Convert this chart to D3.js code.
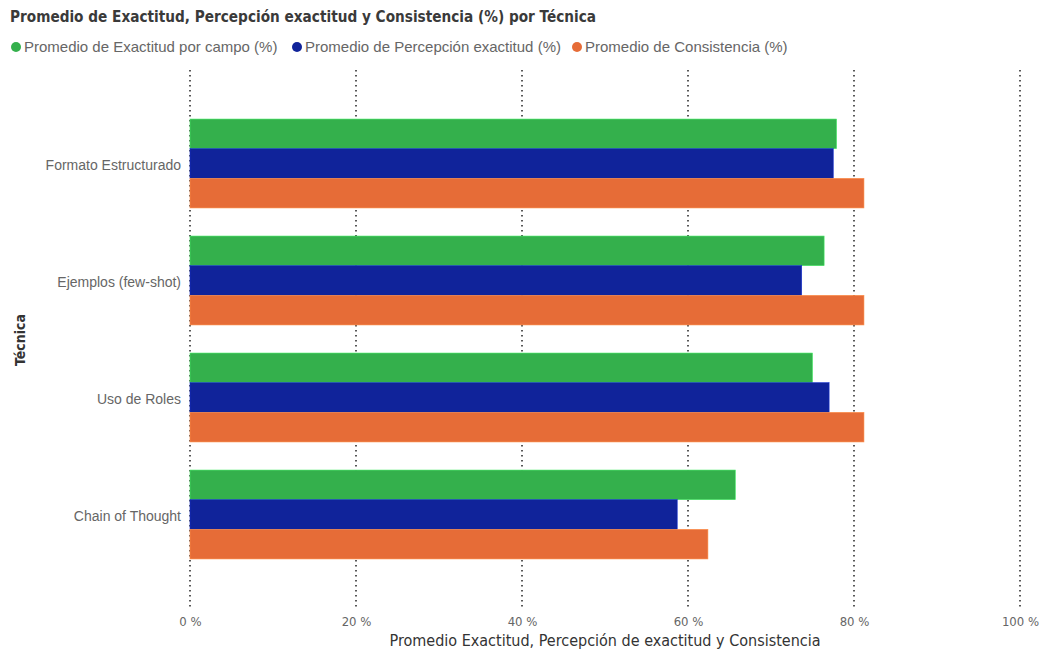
<!DOCTYPE html>
<html><head><meta charset="utf-8">
<script src="https://cdn.jsdelivr.net/npm/d3@7"></script>
<style>body{margin:0;background:#fff}svg{display:block}</style>
</head><body>
<svg id="c" width="1044" height="651"></svg>
<script>
const categories = ["Formato Estructurado","Ejemplos (few-shot)","Uso de Roles","Chain of Thought"];
const seriesNames = ["Promedio de Exactitud por campo (%)","Promedio de Percepción exactitud (%)","Promedio de Consistencia (%)"];
const exactitud = [77.9, 76.4, 75.0, 65.7];
const percepcion = [77.5, 73.7, 77.0, 58.7];
const consistencia = [81.2, 81.2, 81.2, 62.4];
const ticks = [0, 20, 40, 60, 80, 100];
const colors = ["#34B04C","#10239A","#E66C37"];
const series = [exactitud, percepcion, consistencia];

const svg = d3.select("#c");
const x = d3.scaleLinear().domain([0,100]).range([190,1020]);
const y = d3.scaleBand().domain(categories).range([105,573]).paddingInner(0.24).paddingOuter(0.12);
const ySub = d3.scaleBand().domain(d3.range(series.length)).range([0,y.bandwidth()]);

const cond = "'DejaVu Sans Condensed','DejaVu Sans',sans-serif";
const sans = "'Liberation Sans',Arial,sans-serif";

// gridlines
svg.append("g").selectAll("line").data(ticks).join("line")
  .attr("x1",d=>x(d)).attr("x2",d=>x(d)).attr("y1",70).attr("y2",610)
  .attr("stroke","#222").attr("stroke-width",1.5).attr("stroke-dasharray","1.5,3.5");

// bars
const g = svg.append("g");
categories.forEach((c,i)=>{
  series.forEach((s,j)=>{
    g.append("rect").attr("x",x(0)).attr("y",y(c)+ySub(j))
      .attr("width",x(s[i])-x(0)).attr("height",ySub.bandwidth())
      .attr("fill",colors[j]).attr("stroke",d3.color(colors[j]).brighter(0.8)).attr("stroke-width",0.6);
  });
});

// x axis
const xa = svg.append("g").attr("transform","translate(0,609)")
  .call(d3.axisBottom(x).tickValues(ticks).tickSize(0).tickPadding(8).tickFormat(d=>d+" %"));
xa.select(".domain").remove();
xa.selectAll("text").attr("fill","#666").style("font-family",cond).style("font-size","13px");

// y axis
const ya = svg.append("g").attr("transform","translate(181,2)")
  .call(d3.axisLeft(y).tickSize(0).tickPadding(0));
ya.select(".domain").remove();
ya.selectAll("text").attr("fill","#666").style("font-family",sans).style("font-size","14px");

// axis titles
svg.append("text").attr("x",605).attr("y",646).attr("text-anchor","middle")
  .attr("fill","#333").style("font-family",cond).style("font-size","16px")
  .text("Promedio Exactitud, Percepción de exactitud y Consistencia");
svg.append("text").attr("transform","translate(25,340) rotate(-90)").attr("text-anchor","middle")
  .attr("fill","#333").style("font-family",cond).style("font-size","14px").style("font-weight","bold")
  .text("Técnica");

// title
svg.append("text").attr("x",10).attr("y",22).attr("fill","#3a3a3a")
  .style("font-family",cond).style("font-size","15.2px").style("font-weight","bold")
  .text("Promedio de Exactitud, Percepción exactitud y Consistencia (%) por Técnica");

// legend
const legX = [16, 297, 577];
seriesNames.forEach((n,j)=>{
  svg.append("circle").attr("cx",legX[j]).attr("cy",47).attr("r",5).attr("fill",colors[j]);
  svg.append("text").attr("x",legX[j]+8).attr("y",52).attr("fill","#666")
    .style("font-family",sans).style("font-size","15px").text(n);
});
</script>
</body></html>
